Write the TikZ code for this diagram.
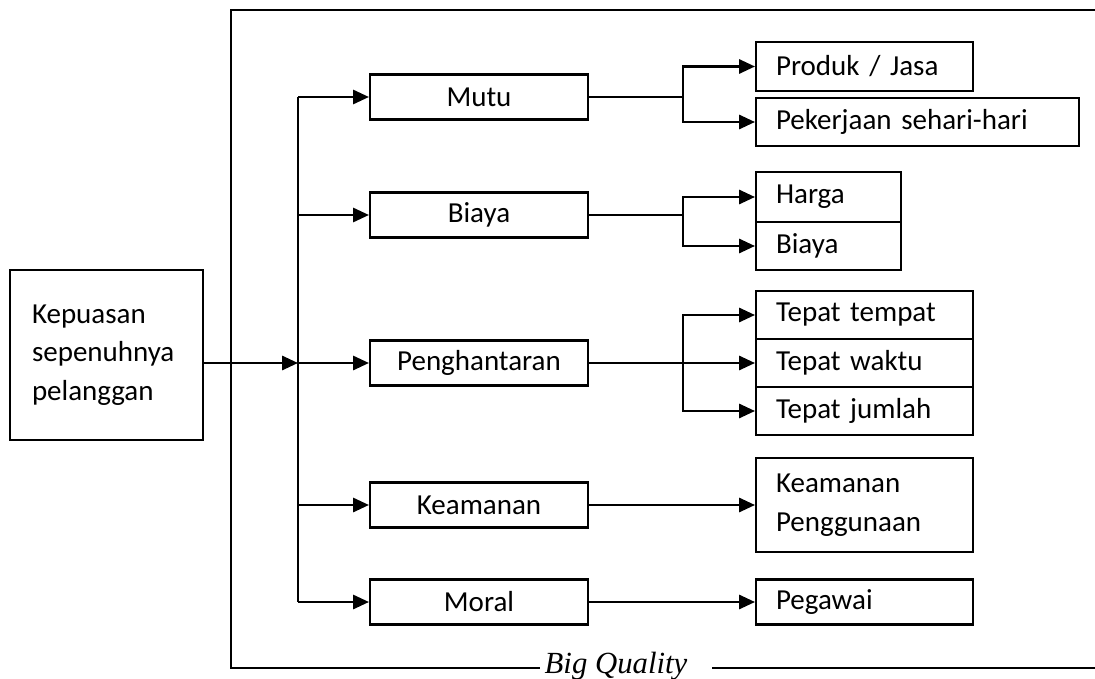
\documentclass[tikz,border=0pt]{standalone}
\usepackage{fontspec}
\setmainfont{Carlito}
\newfontfamily\bqfont{Liberation Serif}
\usetikzlibrary{arrows.meta, positioning}

\begin{document}
\begin{tikzpicture}[
  x=0.02cm, y=-0.02cm,
  >={Triangle[length=9pt,width=8pt]},
  line width=1pt,
  every node/.style={font=\fontsize{16.5}{22}\selectfont},
  flow/.style={->, line width=1.4pt},
  mainbox/.style={rectangle, draw, line width=1.2pt, minimum width=4.36cm, minimum height=0.9cm},
  subbox/.style={rectangle, draw, line width=1.2pt, anchor=west, inner xsep=0.4cm, inner ysep=0pt, align=left, text width=#1},
  startbox/.style={rectangle, draw, line width=1.2pt, inner xsep=0.44cm, align=left, text width=2.98cm, minimum height=3.4cm}
]
  \useasboundingbox (0,0) rectangle (1095,679);
  % frame
  \draw (1095,10) -- (231,10) -- (231,668) -- (540,668);
  \draw (712,668) -- (1095,668);
  \node[anchor=base, font=\bqfont\itshape\fontsize{17.5}{20}\selectfont] (bq) at (616,673) {Big Quality};

  \node[startbox] (puas) at (106.5,355) {Kepuasan\\sepenuhnya\\pelanggan};

  \node[mainbox] (mutu) at (479,97) {Mutu};
  \node[mainbox] (biaya) at (479,215) {Biaya};
  \node[mainbox] (hantar) at (479,363) {Penghantaran};
  \node[mainbox] (aman) at (479,505) {Keamanan};
  \node[mainbox] (moral) at (479,602) {Moral};

  \node[subbox=3.54cm, minimum height=0.98cm] (produk) at (755,66.5) {Produk / Jasa};
  \node[subbox=5.66cm, minimum height=0.96cm] (kerja) at (755,122) {Pekerjaan sehari-hari};
  \node[subbox=2.1cm, minimum height=1cm] (harga) at (755,197) {Harga};
  \node[subbox=2.1cm, minimum height=0.96cm] (biaya2) at (755,246) {Biaya};
  \node[subbox=3.54cm, minimum height=0.96cm] (tempat) at (755,315) {Tepat tempat};
  \node[subbox=3.54cm, minimum height=0.96cm] (waktu) at (755,363) {Tepat waktu};
  \node[subbox=3.54cm, minimum height=0.96cm] (jumlah) at (755,411) {Tepat jumlah};
  \node[subbox=3.54cm, minimum height=1.88cm] (guna) at (755,505) {Keamanan\\Penggunaan};
  \node[subbox=3.54cm, minimum height=0.9cm] (pegawai) at (755,602) {Pegawai};

  % bus
  \coordinate (bus) at (298,363);
  \coordinate (bustop) at (298,97);
  \coordinate (busbot) at (298,602);
  \draw[flow] (puas.east |- bus) -- (bus);
  \draw (bustop) -- (busbot);
  \foreach \n in {mutu, biaya, hantar, aman, moral}
    \draw[flow] (bus |- \n) -- (\n);

  % forks
  \coordinate (f1) at (683,97);
  \coordinate (f2) at (683,215);
  \coordinate (f3) at (683,363);
  \draw (mutu) -- (f1);
  \draw[flow] (f1) |- (produk);
  \draw[flow] (f1) |- (kerja);
  \draw (biaya) -- (f2);
  \draw[flow] (f2) |- (harga);
  \draw[flow] (f2) |- (biaya2);
  \draw[flow] (hantar) -- (waktu);
  \draw[flow] (f3) |- (tempat);
  \draw[flow] (f3) |- (jumlah);
  \draw[flow] (aman) -- (guna);
  \draw[flow] (moral) -- (pegawai);
\end{tikzpicture}
\end{document}
